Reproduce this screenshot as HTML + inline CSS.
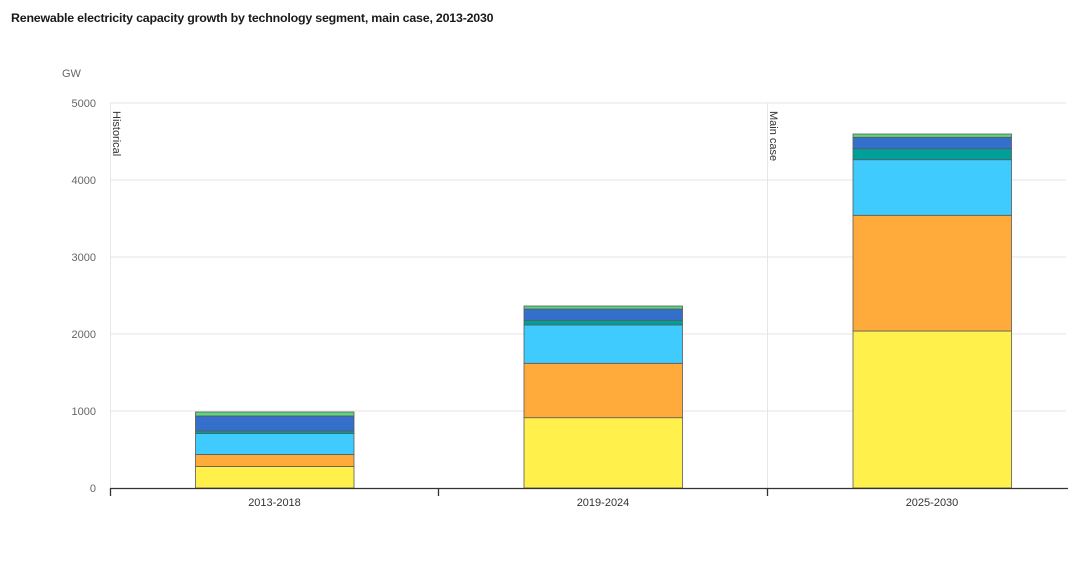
<!DOCTYPE html>
<html><head><meta charset="utf-8"><style>
html,body{margin:0;padding:0;background:#fff;}
svg{display:block;font-family:"Liberation Sans",sans-serif;}
</style></head><body>
<svg width="1068" height="580" viewBox="0 0 1068 580" xmlns="http://www.w3.org/2000/svg">
<rect width="1068" height="580" fill="#fff"/>
<text x="11" y="22" font-size="12.4" font-weight="bold" fill="#1a1a1a" letter-spacing="-0.2">Renewable electricity capacity growth by technology segment, main case, 2013-2030</text>
<text x="62" y="77" font-size="11" fill="#666">GW</text>
<g stroke="#e6e6e6" stroke-width="1">
<line x1="110" y1="103" x2="1066" y2="103"/>
<line x1="110" y1="180" x2="1066" y2="180"/>
<line x1="110" y1="257" x2="1066" y2="257"/>
<line x1="110" y1="334" x2="1066" y2="334"/>
<line x1="110" y1="411" x2="1066" y2="411"/>
<line x1="110.5" y1="103" x2="110.5" y2="488"/>
<line x1="767.5" y1="103" x2="767.5" y2="488"/>
</g>
<g font-size="11" fill="#666" text-anchor="end">
<text x="96" y="107">5000</text>
<text x="96" y="184">4000</text>
<text x="96" y="261">3000</text>
<text x="96" y="338">2000</text>
<text x="96" y="415">1000</text>
<text x="96" y="492">0</text>
</g>
<text transform="translate(113,111) rotate(90)" font-size="11" fill="#333">Historical</text>
<text transform="translate(770,111) rotate(90)" font-size="11" fill="#333">Main case</text>
<g stroke="#5a5a5a" stroke-width="0.8">
<!-- bar 1 -->
<rect x="195.5" y="466.5" width="158.5" height="21.5" fill="#FFF04C"/>
<rect x="195.5" y="454.5" width="158.5" height="12" fill="#FFAB3B"/>
<rect x="195.5" y="433.5" width="158.5" height="21" fill="#40CBFF"/>
<rect x="195.5" y="431" width="158.5" height="2.5" fill="#00A09A"/>
<rect x="195.5" y="416" width="158.5" height="15" fill="#346FCC"/>
<rect x="195.5" y="412" width="158.5" height="4" fill="#5ED47D"/>
<!-- bar 2 -->
<rect x="524" y="417.7" width="158.5" height="70.3" fill="#FFF04C"/>
<rect x="524" y="363.3" width="158.5" height="54.4" fill="#FFAB3B"/>
<rect x="524" y="325" width="158.5" height="38.3" fill="#40CBFF"/>
<rect x="524" y="320.3" width="158.5" height="4.7" fill="#00A09A"/>
<rect x="524" y="309" width="158.5" height="11.3" fill="#346FCC"/>
<rect x="524" y="306" width="158.5" height="3" fill="#5ED47D"/>
<!-- bar 3 -->
<rect x="853" y="331" width="158.5" height="157" fill="#FFF04C"/>
<rect x="853" y="215.3" width="158.5" height="115.7" fill="#FFAB3B"/>
<rect x="853" y="159.7" width="158.5" height="55.6" fill="#40CBFF"/>
<rect x="853" y="148.7" width="158.5" height="11" fill="#00A09A"/>
<rect x="853" y="137.3" width="158.5" height="11.4" fill="#346FCC"/>
<rect x="853" y="134" width="158.5" height="3.3" fill="#5ED47D"/>
</g>
<g stroke="#333" stroke-width="1.3">
<line x1="110" y1="488.5" x2="1068" y2="488.5"/>
<line x1="110.5" y1="488" x2="110.5" y2="496"/>
<line x1="438.5" y1="488" x2="438.5" y2="496"/>
<line x1="767.5" y1="488" x2="767.5" y2="496"/>
</g>
<g font-size="11" fill="#333" text-anchor="middle">
<text x="274.5" y="506">2013-2018</text>
<text x="603" y="506">2019-2024</text>
<text x="932" y="506">2025-2030</text>
</g>
</svg>
</body></html>
